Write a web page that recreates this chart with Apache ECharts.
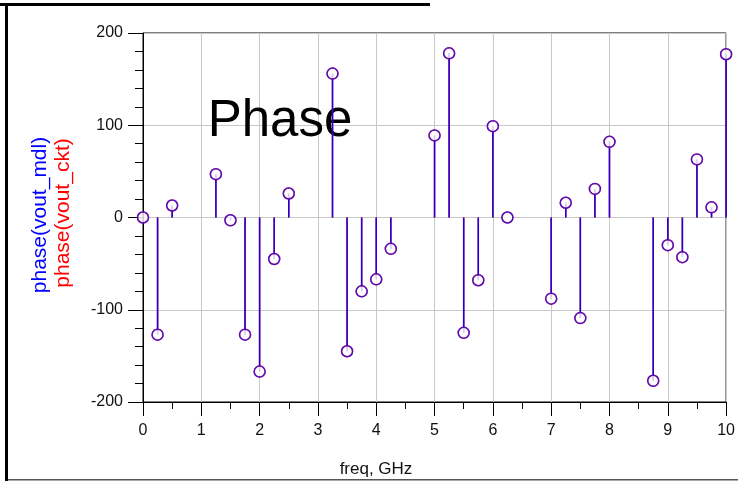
<!DOCTYPE html>
<html>
<head>
<meta charset="utf-8">
<script src="https://cdn.jsdelivr.net/npm/echarts@6/dist/echarts.min.js"></script>
<style>
html,body{margin:0;padding:0;background:#fff;}
#c{width:738px;height:481px;}
</style>
</head>
<body>
<div id="c"></div>
<script>
const freq = [0,0.25,0.5,0.75,1,1.25,1.5,1.75,2,2.25,2.5,2.75,3,3.25,3.5,3.75,4,4.25,4.5,4.75,5,5.25,5.5,5.75,6,6.25,6.5,6.75,7,7.25,7.5,7.75,8,8.25,8.5,8.75,9,9.25,9.5,9.75,10];
const phaseMdl = [0,-127,13,null,null,47,-3,-127,-167,-45,26,null,null,156,-145,-80,-67,-34,null,null,89,178,-125,-68,99,0,null,null,-88,16,-109,31,82,null,null,-177,-30,-43,63,11,177];
const phaseCkt = [0,-127,13,null,null,47,-3,-127,-167,-45,26,null,null,156,-145,-80,-67,-34,null,null,89,178,-125,-68,99,0,null,null,-88,16,-109,31,82,null,null,-177,-30,-43,63,11,177];
const xTicks = [0,1,2,3,4,5,6,7,8,9,10];
const yTicks = [-200,-100,0,100,200];
const xName = 'freq, GHz';
const yNameMdl = 'phase(vout_mdl)';
const yNameCkt = 'phase(vout_ckt)';
const titleText = 'Phase';

function pairs(vals){
  const out = [];
  for (let i = 0; i < freq.length; i++) if (vals[i] !== null) out.push([freq[i], vals[i]]);
  return out;
}
const FONT = "'Liberation Sans', Arial, sans-serif";
const chart = echarts.init(document.getElementById('c'), null, {renderer:'canvas'});
const gl = 143, gr = 727, gt = 33, gb = 402;
chart.setOption({
  animation:false,
  backgroundColor:'#fff',
  grid:{left:gl, right:738-gr, top:gt, bottom:481-gb, show:true, borderColor:'#000', borderWidth:1, backgroundColor:'transparent'},
  xAxis:{
    type:'value', min:xTicks[0], max:xTicks[xTicks.length-1], interval:1,
    axisLine:{show:true, onZero:false, lineStyle:{color:'#000', width:1}},
    axisTick:{show:true, length:14, lineStyle:{color:'#000'}},
    minorTick:{show:true, splitNumber:2, length:7, lineStyle:{color:'#000'}},
    splitLine:{show:true, lineStyle:{color:'#c8c8c8', width:1}},
    axisLabel:{color:'#111', fontSize:16, fontFamily:FONT, margin:21}
  },
  yAxis:{
    type:'value', min:yTicks[0], max:yTicks[yTicks.length-1], interval:100,
    axisLine:{show:true, onZero:false, lineStyle:{color:'#000', width:1}},
    axisTick:{show:true, length:15, lineStyle:{color:'#000'}},
    minorTick:{show:true, splitNumber:5, length:8, lineStyle:{color:'#000'}},
    splitLine:{show:true, lineStyle:{color:'#c8c8c8', width:1}},
    axisLabel:{color:'#111', fontSize:16, fontFamily:FONT, margin:20}
  },
  graphic:[
    {type:'rect', shape:{x:5, y:3, width:3, height:478}, style:{fill:'#000'}, z:10},
    {type:'rect', shape:{x:0, y:3, width:430, height:3}, style:{fill:'#000'}, z:10},
    {type:'rect', shape:{x:8, y:479, width:730, height:1.5}, style:{fill:'#555'}, z:10},
    {type:'text', x:280, y:122, z:1, style:{text:titleText, font:'51px '+FONT, fill:'#000', align:'center', verticalAlign:'middle'}},
    {type:'text', x:376, y:469, z:10, style:{text:xName, font:'17px '+FONT, fill:'#111', align:'center', verticalAlign:'middle'}},
    {type:'text', x:40, y:215, rotation:Math.PI/2, z:10, style:{text:yNameMdl, font:'21px '+FONT, fill:'#0000ff', align:'center', verticalAlign:'middle'}},
    {type:'text', x:63, y:213, rotation:Math.PI/2, z:10, style:{text:yNameCkt, font:'21px '+FONT, fill:'#ff0000', align:'center', verticalAlign:'middle'}}
  ],
  series:[
    {name:yNameCkt, type:'bar', data:pairs(phaseCkt), barWidth:1.5, barGap:'-100%', itemStyle:{color:'#ff0000'}, z:2, silent:true},
    {name:yNameMdl, type:'bar', data:pairs(phaseMdl), barWidth:1.5, barGap:'-100%', itemStyle:{color:'#0000ff', opacity:0.9}, z:3, silent:true},
    {name:yNameCkt+'_m', type:'scatter', data:pairs(phaseCkt), symbol:'circle', symbolSize:11, itemStyle:{color:'#fff', borderColor:'#ff0000', borderWidth:1.5}, z:4, silent:true},
    {name:yNameMdl+'_m', type:'scatter', data:pairs(phaseMdl), symbol:'circle', symbolSize:11, itemStyle:{color:'rgba(255,255,255,0)', borderColor:'rgba(0,0,255,0.85)', borderWidth:1.5}, z:5, silent:true}
  ]
});
</script>
</body>
</html>
